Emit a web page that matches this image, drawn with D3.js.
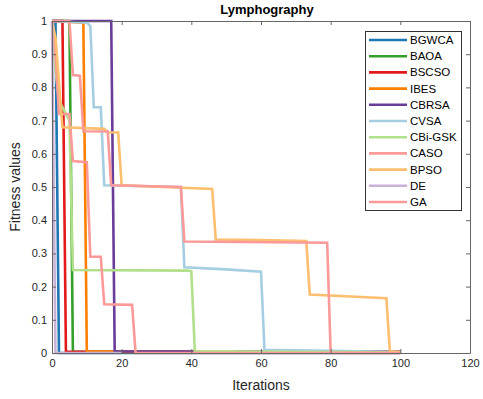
<!DOCTYPE html>
<html><head><meta charset="utf-8">
<script src="https://cdn.jsdelivr.net/npm/d3@7"></script>
<style>body{margin:0;background:#fff} text{font-family:"Liberation Sans",Arial,Helvetica,sans-serif}</style>
</head><body><svg id="c" width="483" height="399"></svg>
<script>
// ---- data: [iteration, fitness] points ----
const seriesNames = ["BGWCA","BAOA","BSCSO","IBES","CBRSA","CVSA","CBi-GSK","CASO","BPSO","DE","GA"];
const seriesColors = ["#1f78b4","#33a02c","#e31a1c","#ff7f00","#6a3d9a","#a6cee3","#b2df8a","#fb9a99","#fdbf6f","#cab2d6","#fb9a99"];
const bgwca  = [[0,1],[1,1],[2,0],[100,0]];
const baoa   = [[0,1],[5,1],[6,0.004],[100,0.003]];
const bscso  = [[0,1],[3,1],[4,0.004],[100,0.003]];
const ibes   = [[0,1],[9,0.995],[10,0.004],[100,0.003]];
const cbrsa  = [[0,1],[17,1],[18,0.005],[100,0.004]];
const cvsa   = [[0,1],[10,0.995],[11,0.985],[12,0.74],[14,0.74],[15,0.505],[37,0.5],[38,0.258],[50,0.252],[60,0.245],[61,0.01],[80,0.007],[100,0.003]];
const cbigsk = [[0,0.95],[2,0.76],[4,0.72],[5,0.7],[6,0.25],[39,0.248],[40,0.246],[41,0.006],[60,0.004],[100,0.002]];
const caso   = [[0,1],[1,0.9],[2,0.72],[5,0.72],[6,0.578],[10,0.575],[11,0.29],[14,0.29],[15,0.147],[23,0.145],[24,0],[100,0]];
const bpso   = [[0,1],[1,0.95],[3,0.68],[15,0.675],[16,0.665],[19,0.664],[20,0.505],[46,0.494],[47,0.342],[60,0.34],[73,0.337],[74,0.176],[96,0.165],[97,0.005],[100,0.003]];
const de     = [[0,1],[1,0],[20,0]];
const ga     = [[0,1],[5,1],[6,0.837],[8,0.835],[9,0.668],[16,0.667],[17,0.505],[37,0.5],[38,0.336],[79,0.332],[80,0],[100,0]];
const seriesData = [bgwca,baoa,bscso,ibes,cbrsa,cvsa,cbigsk,caso,bpso,de,ga];
const xTicks = [0,20,40,60,80,100,120];
const yTicks = [0,0.1,0.2,0.3,0.4,0.5,0.6,0.7,0.8,0.9,1];

// ---- layout ----
const L=52, R=470, T=21, B=353;
const svg = d3.select("#c");
const x = d3.scaleLinear().domain([0,120]).range([L,R]);
const y = d3.scaleLinear().domain([0,1]).range([B,T]);
const axisColor = "#666";

svg.append("clipPath").attr("id","clip").append("rect").attr("x",L-2).attr("y",T-2).attr("width",R-L+4).attr("height",B-T+4);

// lines
const line = d3.line().x(d=>x(d[0])).y(d=>y(d[1]));
const g = svg.append("g").attr("clip-path","url(#clip)");
seriesData.forEach((s,i)=>{
  g.append("path").attr("d",line(s)).attr("fill","none")
   .attr("stroke",seriesColors[i]).attr("stroke-width",2.6).attr("stroke-linejoin","miter");
});

// axes
function styleAxis(sel){
  sel.selectAll(".domain").attr("stroke",axisColor);
  sel.selectAll(".tick line").attr("stroke",axisColor);
  sel.selectAll(".tick text").attr("fill","#262626").style("font-size","11px")
     .style("font-family",'"Liberation Sans",Arial,sans-serif');
}
svg.append("g").attr("transform",`translate(0,${B})`)
  .call(d3.axisBottom(x).tickValues(xTicks).tickSize(-4).tickSizeOuter(0).tickPadding(6)).call(styleAxis);
svg.append("g").attr("transform",`translate(0,${T})`)
  .call(d3.axisTop(x).tickValues(xTicks).tickSize(-4).tickSizeOuter(0).tickFormat("")).call(styleAxis);
svg.append("g").attr("transform",`translate(${L},0)`)
  .call(d3.axisLeft(y).tickValues(yTicks).tickSize(-4).tickSizeOuter(0).tickPadding(5).tickFormat(d3.format("~g"))).call(styleAxis);
svg.append("g").attr("transform",`translate(${R},0)`)
  .call(d3.axisRight(y).tickValues(yTicks).tickSize(-4).tickSizeOuter(0).tickFormat("")).call(styleAxis);

// labels
svg.append("text").attr("x",267).attr("y",14).attr("text-anchor","middle")
  .style("font-size","13px").style("font-weight","bold").attr("fill","#000").text("Lymphography");
svg.append("text").attr("x",(L+R)/2).attr("y",390).attr("text-anchor","middle")
  .style("font-size","14px").attr("fill","#262626").text("Iterations");
svg.append("text").attr("transform",`translate(20,${(T+B)/2}) rotate(-90)`).attr("text-anchor","middle")
  .style("font-size","14px").attr("fill","#262626").text("Fitness values");

// legend
const lg = svg.append("g");
lg.append("rect").attr("x",365.5).attr("y",31.5).attr("width",96).attr("height",179)
  .attr("fill","#fff").attr("stroke","#333").attr("stroke-width",1);
seriesNames.forEach((n,i)=>{
  const yy = 40 + i*16.2;
  lg.append("line").attr("x1",369).attr("x2",407).attr("y1",yy).attr("y2",yy)
    .attr("stroke",seriesColors[i]).attr("stroke-width",2.6);
  lg.append("text").attr("x",410).attr("y",yy+4).style("font-size","11.5px").attr("fill","#000").text(n);
});
</script></body></html>
